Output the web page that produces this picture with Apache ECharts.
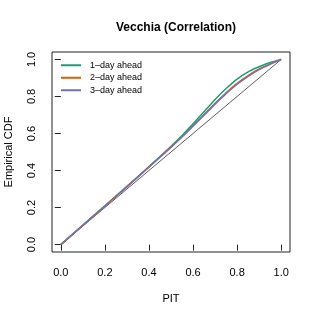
<!DOCTYPE html>
<html><head><meta charset="utf-8">
<script src="https://cdn.jsdelivr.net/npm/echarts@6/dist/echarts.min.js"></script>
<style>html,body{margin:0;padding:0;background:#fff}#c{width:317px;height:317px}</style>
</head><body><div id="c"></div>
<script>
const pit = [0, 0.1, 0.2, 0.3, 0.4, 0.5, 0.55, 0.6, 0.65, 0.7, 0.75, 0.8, 0.85, 0.9, 0.95, 1];
const day1 = [0, 0.105, 0.21, 0.315, 0.421, 0.531, 0.589, 0.652, 0.718, 0.784, 0.843, 0.894, 0.933, 0.96, 0.983, 1];
const day2 = [0, 0.104, 0.208, 0.313, 0.419, 0.527, 0.584, 0.643, 0.703, 0.763, 0.82, 0.871, 0.913, 0.948, 0.976, 1];
const day3 = [0, 0.104, 0.207, 0.312, 0.418, 0.525, 0.581, 0.639, 0.698, 0.758, 0.815, 0.866, 0.909, 0.945, 0.974, 1];
const diag = [0, 1];
const ticks = [0, 0.2, 0.4, 0.6, 0.8, 1.0];
const names = ['1\u2013day ahead', '2\u2013day ahead', '3\u2013day ahead'];
const colors = ['#1B9E77', '#D95F02', '#7570B3'];

const zip = (xs, ys) => xs.map((x, i) => [x, ys[i]]);
const font = 'Liberation Sans, Arial, Helvetica, sans-serif';
const chart = echarts.init(document.getElementById('c'), null, {renderer: 'canvas'});
const axisCommon = {
  type: 'value', min: -0.04, max: 1.04,
  splitLine: {show: false},
  axisLine: {show: false},
  axisTick: {show: true, inside: false, length: 6, customValues: ticks, lineStyle: {color: '#222'}},
  axisLabel: {customValues: ticks, formatter: v => v.toFixed(1), color: '#000', fontSize: 11, fontFamily: font, margin: 15},
  nameLocation: 'middle',
  nameTextStyle: {color: '#000', fontSize: 11, fontFamily: font}
};
const series = [day1, day2, day3].map((d, i) => ({
  name: names[i], type: 'line', data: zip(pit, d), smooth: 0.25, symbol: 'none', showSymbol: false,
  lineStyle: {color: colors[i], width: 1.5}, itemStyle: {color: colors[i]}, silent: true, z: 3
}));
series.unshift({
  name: 'diag', type: 'line', data: zip(diag, diag), symbol: 'none',
  lineStyle: {color: '#333', width: 0.8}, silent: true, z: 2
});
chart.setOption({
  animation: false,
  title: {text: 'Vecchia (Correlation)', left: 171, top: 17, textAlign: 'center',
    textStyle: {fontSize: 12, fontWeight: 'bold', fontFamily: font, color: '#000'}},
  grid: {left: 52, right: 27, top: 52, bottom: 65, show: true, borderColor: '#222', borderWidth: 1,
    backgroundColor: 'transparent', containLabel: false, outerBoundsMode: 'none'},
  xAxis: Object.assign({}, axisCommon, {name: 'PIT', nameGap: 41}),
  yAxis: Object.assign({}, axisCommon, {name: 'Empirical CDF', nameGap: 38,
    axisLabel: Object.assign({}, axisCommon.axisLabel, {rotate: 90, margin: 15})}),
  legend: {
    data: names, orient: 'vertical', left: 61, top: 59, padding: 0, itemWidth: 20, itemHeight: 2, itemGap: 0, icon: 'rect',
    textStyle: {fontSize: 9, lineHeight: 12.5, fontFamily: font, color: '#000', padding: [0, 0, 0, 4]}
  },
  series: series
});
</script></body></html>
